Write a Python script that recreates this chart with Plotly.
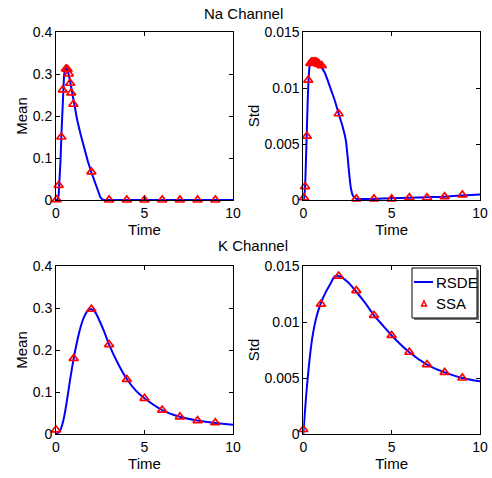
import plotly.graph_objects as go

# ---------------- data ----------------
# Na channel mean (RSDE line)
na_mean_t = [0, 0.1, 0.15, 0.2, 0.25, 0.3, 0.35, 0.4, 0.45, 0.5, 0.55, 0.6, 0.7, 0.8, 0.9, 1.0,
             1.2, 1.4, 1.6, 1.8, 2.0, 2.2, 2.35, 2.5, 2.6, 2.7, 3, 4, 5, 6, 7, 8, 9, 10]
na_mean_y = [0, 0.002, 0.012, 0.04, 0.09, 0.15, 0.21, 0.26, 0.293, 0.31, 0.315, 0.313, 0.302, 0.282, 0.257, 0.232,
             0.19, 0.155, 0.122, 0.092, 0.066, 0.041, 0.022, 0.007, 0.002, 0, 0, 0, 0, 0, 0, 0, 0, 0]
# Na channel mean (SSA markers)
na_mean_ssa_t = [0.04, 0.15, 0.3, 0.38, 0.56, 0.65, 0.73, 0.8, 0.86, 0.98, 2, 3, 4, 5, 6, 7, 8, 9]
na_mean_ssa_y = [0.001, 0.035, 0.15, 0.262, 0.312, 0.311, 0.3, 0.278, 0.255, 0.228, 0.067, 0, 0, 0, 0, 0, 0, 0]

# Na channel std (RSDE line)
na_std_t = [0, 0.05, 0.1, 0.15, 0.2, 0.25, 0.3, 0.35, 0.4, 0.5, 0.6, 0.7, 0.8, 0.9, 1.0, 1.2, 1.4, 1.6,
            1.8, 2.0, 2.2, 2.4, 2.5, 2.6, 2.7, 2.8, 2.9, 3.0, 4, 5, 6, 7, 8, 9, 10]
na_std_y = [0, 0.0002, 0.0012, 0.0035, 0.0062, 0.0089, 0.0108, 0.0119, 0.0122, 0.0123, 0.0123, 0.0122, 0.0121,
            0.012, 0.0119, 0.0114, 0.0106, 0.0097, 0.0088, 0.0077, 0.0067, 0.0054, 0.0040, 0.0023, 0.0010, 0.0004,
            0.0002, 0.0001, 0.0001, 0.00015, 0.0002, 0.00025, 0.0003, 0.0004, 0.0005]
na_std_ssa_t = [0.04, 0.1, 0.2, 0.28, 0.4, 0.45, 0.5, 0.55, 0.6, 0.65, 0.7, 0.75, 0.8, 0.85, 0.9, 1.04,
                2, 3, 4, 5, 6, 7, 8, 9]
na_std_ssa_y = [0.0002, 0.0012, 0.0057, 0.0107, 0.0122, 0.0123, 0.0123, 0.0123, 0.0123, 0.0123, 0.0123, 0.0123,
                0.0122, 0.0122, 0.0121, 0.012, 0.0077, 0.0001, 0.0001, 0.0001, 0.0002, 0.0002, 0.0003, 0.00045]

# K channel mean
k_mean_t = [0, 0.2, 0.4, 0.6, 0.8, 1.0, 1.2, 1.4, 1.6, 1.8, 2.0, 2.2, 2.4, 2.7, 3.0, 3.5, 4.0, 4.5, 5, 6, 7, 8, 9, 10]
k_mean_y = [0, 0.006, 0.03, 0.075, 0.13, 0.18, 0.222, 0.256, 0.28, 0.294, 0.297, 0.291, 0.275, 0.246, 0.213,
            0.168, 0.131, 0.104, 0.085, 0.057, 0.041, 0.032, 0.026, 0.022]
k_mean_ssa_t = [0, 1, 2, 3, 4, 5, 6, 7, 8, 9]
k_mean_ssa_y = [0.01, 0.18, 0.297, 0.213, 0.13, 0.085, 0.057, 0.041, 0.032, 0.027]

# K channel std
k_std_t = [0, 0.25, 0.5, 0.75, 1.0, 1.25, 1.5, 1.8, 2.0, 2.5, 3.0, 3.5, 4, 4.5, 5, 6, 7, 8, 9, 10]
k_std_y = [0, 0.005, 0.0085, 0.0105, 0.0117, 0.0126, 0.0133, 0.0141, 0.0141, 0.0136, 0.0127, 0.0117, 0.0106,
           0.0097, 0.0088, 0.0073, 0.0062, 0.0055, 0.005, 0.0047]
k_std_ssa_t = [0, 1, 2, 3, 4, 5, 6, 7, 8, 9]
k_std_ssa_y = [0.0004, 0.0116, 0.0141, 0.0128, 0.0106, 0.0088, 0.0073, 0.0062, 0.0055, 0.005]

mean_ticks = [0, 0.1, 0.2, 0.3, 0.4]
mean_tick_text = ["0", "0.1", "0.2", "0.3", "0.4"]
std_ticks = [0, 0.005, 0.01, 0.015]
std_tick_text = ["0", "0.005", "0.01", "0.015"]
time_ticks = [0, 5, 10]
time_tick_text = ["0", "5", "10"]
legend_labels = ["RSDE", "SSA"]

# ---------------- figure ----------------
W, H = 492, 478
BLUE = "rgb(0,0,255)"
RED = "rgb(255,0,0)"
FONT = "Liberation Sans, Arial, Helvetica, sans-serif"

fig = go.Figure()

panels = [
    (na_mean_t, na_mean_y, na_mean_ssa_t, na_mean_ssa_y, "x", "y", "linear", 1.0),
    (na_std_t, na_std_y, na_std_ssa_t, na_std_ssa_y, "x2", "y2", "spline", 0.6),
    (k_mean_t, k_mean_y, k_mean_ssa_t, k_mean_ssa_y, "x3", "y3", "spline", 1.0),
    (k_std_t, k_std_y, k_std_ssa_t, k_std_ssa_y, "x4", "y4", "spline", 1.0),
]
for i, (lt, ly, st, sy, xa, ya, shp, sm) in enumerate(panels):
    line = dict(color=BLUE, width=2, shape=shp)
    if shp == "spline":
        line["smoothing"] = sm
    fig.add_trace(go.Scatter(x=lt, y=ly, mode="lines", name=legend_labels[0], xaxis=xa, yaxis=ya,
                             line=line, showlegend=False, cliponaxis=False))
    fig.add_trace(go.Scatter(x=st, y=sy, mode="markers", name=legend_labels[1], xaxis=xa, yaxis=ya,
                             marker=dict(symbol="triangle-up-open", size=8, color=RED,
                                         line=dict(color=RED, width=1.7)),
                             showlegend=False, cliponaxis=False))

def px_x(p):
    return p / W

def px_y(p):
    return 1 - p / H

xdom_l = [px_x(56), px_x(233)]
xdom_r = [px_x(303.3), px_x(480)]
ydom_t = [px_y(200), px_y(32)]
ydom_b = [px_y(434), px_y(266)]

common_axis = dict(showline=True, linecolor="black", linewidth=1, mirror="ticks",
                   ticks="inside", ticklen=4, tickcolor="black", showgrid=False, zeroline=False,
                   automargin=False,
                   tickfont=dict(family=FONT, size=14, color="black"))

def xaxis(dom, anchor):
    return dict(common_axis, domain=dom, anchor=anchor, range=[0, 10], tickvals=time_ticks,
                ticktext=time_tick_text,
                title=dict(text="Time", font=dict(family=FONT, size=15, color="black"), standoff=0))

def yaxis(dom, anchor, ticks, text, rng, title):
    return dict(common_axis, domain=dom, anchor=anchor, range=rng, tickvals=ticks, ticktext=text,
                title=dict(text=title, font=dict(family=FONT, size=15, color="black"), standoff=1))

# manual legend (MATLAB-style box inside the K-channel Std panel)
lx0, lx1, ly0, ly1 = 412, 477, 268, 318
shapes = [
    dict(type="rect", xref="paper", yref="paper", x0=px_x(lx0 + 2), x1=px_x(lx1 + 2),
         y0=px_y(ly1 + 2), y1=px_y(ly0 + 2), line=dict(width=0), fillcolor="rgb(120,120,120)"),
    dict(type="rect", xref="paper", yref="paper", x0=px_x(lx0), x1=px_x(lx1),
         y0=px_y(ly1), y1=px_y(ly0), line=dict(color="black", width=1), fillcolor="white"),
    dict(type="line", xref="paper", yref="paper", x0=px_x(414), x1=px_x(433),
         y0=px_y(282), y1=px_y(282), line=dict(color=BLUE, width=2)),
    dict(type="path", xref="paper", yref="paper",
         path="M {:.5f},{:.5f} L {:.5f},{:.5f} L {:.5f},{:.5f} Z".format(
             px_x(421.5), px_y(306), px_x(426.5), px_y(306), px_x(424), px_y(301)),
         line=dict(color=RED, width=1.5), fillcolor="rgba(0,0,0,0)"),
]

fig.update_layout(
    width=W, height=H,
    margin=dict(l=0, r=0, t=0, b=0, autoexpand=False),
    paper_bgcolor="white", plot_bgcolor="white",
    font=dict(family=FONT, size=14, color="black"),
    xaxis=xaxis(xdom_l, "y"),
    yaxis=yaxis(ydom_t, "x", mean_ticks, mean_tick_text, [0, 0.4], "Mean"),
    xaxis2=xaxis(xdom_r, "y2"),
    yaxis2=yaxis(ydom_t, "x2", std_ticks, std_tick_text, [0, 0.015], "Std"),
    xaxis3=xaxis(xdom_l, "y3"),
    yaxis3=yaxis(ydom_b, "x3", mean_ticks, mean_tick_text, [0, 0.4], "Mean"),
    xaxis4=xaxis(xdom_r, "y4"),
    yaxis4=yaxis(ydom_b, "x4", std_ticks, std_tick_text, [0, 0.015], "Std"),
    showlegend=False,
    shapes=shapes,
    annotations=[
        dict(text="Na Channel", x=px_x(243), y=px_y(13), xref="paper", yref="paper",
             xanchor="center", yanchor="middle",
             showarrow=False, font=dict(family=FONT, size=15, color="black")),
        dict(text="K Channel", x=px_x(253), y=px_y(245), xref="paper", yref="paper",
             xanchor="center", yanchor="middle",
             showarrow=False, font=dict(family=FONT, size=15, color="black")),
        dict(text=legend_labels[0], x=px_x(434), y=px_y(282), xref="paper", yref="paper",
             xanchor="left", yanchor="middle", showarrow=False,
             font=dict(family=FONT, size=15, color="black")),
        dict(text=legend_labels[1], x=px_x(434), y=px_y(303), xref="paper", yref="paper",
             xanchor="left", yanchor="middle", showarrow=False,
             font=dict(family=FONT, size=15, color="black")),
    ],
)

fig.write_html("out.html", config={"displayModeBar": False},
               post_script="document.body.style.margin='0';document.body.style.overflow='hidden';")
